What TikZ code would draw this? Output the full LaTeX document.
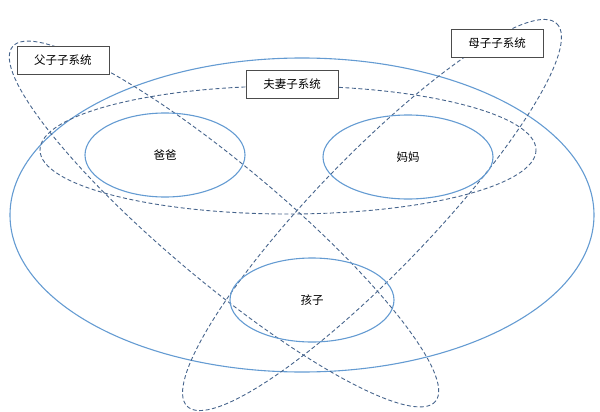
\documentclass[tikz,border=0pt]{standalone}
\usepackage{fontspec}
\newfontfamily\cjk{Noto Sans CJK SC}
\usetikzlibrary{shapes.geometric}
\definecolor{solidblue}{RGB}{100,155,210}
\definecolor{dashblue}{RGB}{70,100,140}
\tikzset{solidell/.style={draw=solidblue,line width=1.1pt},
dashell/.style={draw=dashblue,dashed,line width=0.9pt,dash pattern=on 4pt off 2.5pt},
lbl/.style={font=\cjk\fontsize{11.5}{13}\selectfont},
boxlbl/.style={lbl,draw=black!70,fill=white,line width=0.5pt,minimum width=92pt,minimum height=28pt}}
\begin{document}
\begin{tikzpicture}[x=1pt,y=-1pt]
\useasboundingbox (0,0) rectangle (600,412);
\draw[solidell] (302,215) ellipse [x radius=292,y radius=157];
\draw[dashell] (288,150) ellipse [x radius=248,y radius=64];
\draw[dashell,rotate around={-40:(224,224)}] (224,224) ellipse [x radius=276,y radius=58];
\draw[dashell,rotate around={46:(372,215)}] (372,215) ellipse [x radius=266,y radius=58];
\draw[solidell] (165,155) ellipse [x radius=80,y radius=42];
\draw[solidell] (408,157) ellipse [x radius=85,y radius=42];
\draw[solidell] (312,300) ellipse [x radius=82,y radius=42];
\node[lbl] (dad) at (165,155) {爸爸};
\node[lbl] (mom) at (408,157) {妈妈};
\node[lbl] (kid) at (312,300) {孩子};
\node[boxlbl] (fz) at (63,60) {父子子系统};
\node[boxlbl] (fq) at (292,84) {夫妻子系统};
\node[boxlbl] (mz) at (497,43) {母子子系统};
\end{tikzpicture}
\end{document}
